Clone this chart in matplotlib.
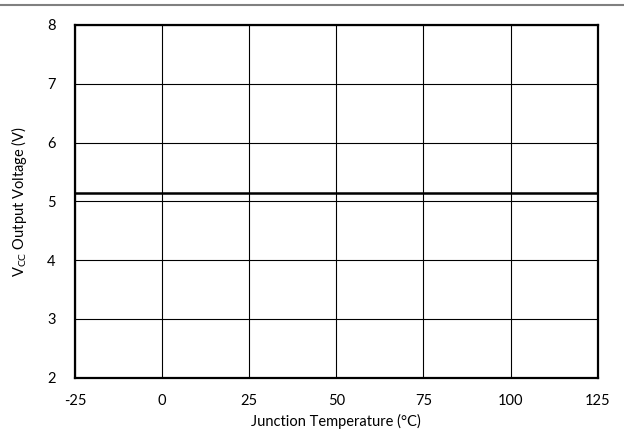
import matplotlib
matplotlib.use("Agg")
import matplotlib.pyplot as plt
from matplotlib.lines import Line2D

plt.rcParams['font.family'] = ['Lato', 'DejaVu Sans']

# Data
temperature = [-25, 0, 25, 50, 75, 100, 125]
vcc_voltage = [5.15, 5.15, 5.15, 5.15, 5.15, 5.15, 5.15]
x_ticks = [-25, 0, 25, 50, 75, 100, 125]
y_ticks = [2, 3, 4, 5, 6, 7, 8]

fig = plt.figure(figsize=(6.24, 4.38), dpi=100)
ax = fig.add_axes([0.1202, 0.1377, 0.8377, 0.8053])

ax.plot(temperature, vcc_voltage, color="black", linewidth=1.8)

ax.set_xlim(-25, 125)
ax.set_ylim(2, 8)
ax.set_xticks(x_ticks)
ax.set_yticks(y_ticks)
ax.set_xticklabels([str(t) for t in x_ticks])
ax.grid(True, color="black", linewidth=0.8)
ax.tick_params(length=0, labelsize=10.5, pad=12)
ax.tick_params(axis="y", pad=14)
for s in ax.spines.values():
    s.set_linewidth(1.6)

ax.set_xlabel("Junction Temperature (°C)", fontsize=10.5, labelpad=4)
ax.set_ylabel("V$_{\\mathregular{CC}}$ Output Voltage (V)", fontsize=10.5, labelpad=13)

# thin grey rule across the top of the figure
fig.add_artist(Line2D([0, 1], [0.989, 0.989], color="#808080", linewidth=1.5,
                      transform=fig.transFigure))

fig.savefig("out.png", dpi=100)
